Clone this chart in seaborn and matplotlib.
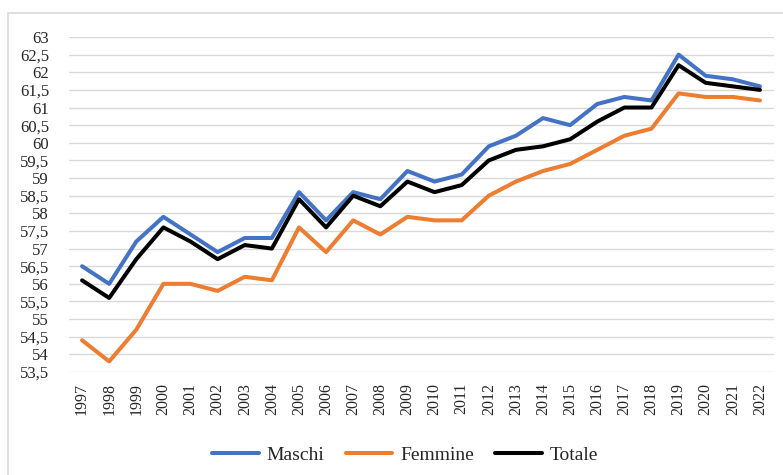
import matplotlib
matplotlib.use("Agg")
import matplotlib.pyplot as plt
from matplotlib.patches import Rectangle
from matplotlib.ticker import FuncFormatter, MultipleLocator
import pandas as pd
import seaborn as sns

anni = list(range(1997, 2023))
maschi = [56.5, 56.0, 57.2, 57.9, 57.4, 56.9, 57.3, 57.3, 58.6, 57.8, 58.6, 58.4, 59.2,
          58.9, 59.1, 59.9, 60.2, 60.7, 60.5, 61.1, 61.3, 61.2, 62.5, 61.9, 61.8, 61.6]
femmine = [54.4, 53.8, 54.7, 56.0, 56.0, 55.8, 56.2, 56.1, 57.6, 56.9, 57.8, 57.4, 57.9,
           57.8, 57.8, 58.5, 58.9, 59.2, 59.4, 59.8, 60.2, 60.4, 61.4, 61.3, 61.3, 61.2]
totale = [56.1, 55.6, 56.7, 57.6, 57.2, 56.7, 57.1, 57.0, 58.4, 57.6, 58.5, 58.2, 58.9,
          58.6, 58.8, 59.5, 59.8, 59.9, 60.1, 60.6, 61.0, 61.0, 62.2, 61.7, 61.6, 61.5]
serie = ["Maschi", "Femmine", "Totale"]
colori = ["#4472C4", "#ED7D31", "#000000"]

df = pd.DataFrame({
    "pos": list(range(len(anni))) * 3,
    "valore": maschi + femmine + totale,
    "serie": [s for s in serie for _ in anni],
})

sns.set_theme(style="white")
plt.rcParams["font.family"] = ["Liberation Serif", "DejaVu Serif"]

W, H = 783, 475
fig = plt.figure(figsize=(W / 100, H / 100), dpi=100)
ax = fig.add_axes([68.5 / W, 1 - 372 / H, (773.5 - 68.5) / W, (372 - 37) / H])

sns.lineplot(data=df, x="pos", y="valore", hue="serie", hue_order=serie,
             palette=colori, linewidth=2.9, ax=ax, legend=False, sort=False)
for ln in ax.lines:
    ln.set_solid_joinstyle("round")
    ln.set_solid_capstyle("round")

ax.set_xlim(-0.5, len(anni) - 0.5)
ax.set_ylim(53.5, 63)
ax.yaxis.set_major_locator(MultipleLocator(0.5))
ax.yaxis.set_major_formatter(FuncFormatter(lambda v, p: f"{v:g}".replace(".", ",")))
ax.set_xticks(range(len(anni)))
ax.set_xticklabels([str(a) for a in anni], rotation=90)
ax.tick_params(axis="y", labelsize=12, length=0, pad=14, colors="#262626")
ax.tick_params(axis="x", labelsize=11.5, length=0, pad=8, colors="#262626")
ax.set_xlabel("")
ax.set_ylabel("")
ax.grid(axis="y", color="#D9D9D9", linewidth=1.0)
ax.grid(axis="x", visible=False)
ax.set_axisbelow(True)
for s in ax.spines.values():
    s.set_visible(False)

handles = ax.lines[:3]
fig.legend(handles, serie, loc="center", bbox_to_anchor=(405 / W, 1 - 455 / H),
           ncol=3, frameon=False, fontsize=14, handlelength=2.4, handletextpad=0.4,
           columnspacing=1.1)

fig.patches.append(Rectangle((8 / W, -0.1), 1.2, 1 - 13 / H + 0.1, transform=fig.transFigure,
                             fill=False, edgecolor="#D9D9D9", linewidth=1.2))

fig.savefig("out.png", dpi=100)
